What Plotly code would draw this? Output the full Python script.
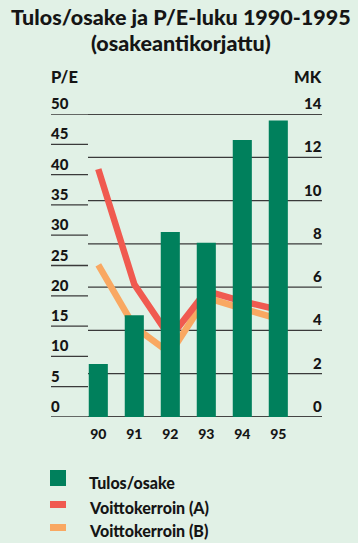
import plotly.graph_objects as go

# Data
years = ["90", "91", "92", "93", "94", "95"]
tulos_osake = [2.45, 4.7, 8.55, 8.05, 12.8, 13.7]          # MK (right axis)
voittokerroin_a = [40.9, 21.9, 13.1, 20.8, 19.1, 17.7]     # P/E (left axis)
voittokerroin_b = [25.1, 14.9, 10.5, 19.7, 17.9, 16.2]     # P/E (left axis)
pe_ticks = [0, 5, 10, 15, 20, 25, 30, 35, 40, 45, 50]
mk_ticks = [0, 2, 4, 6, 8, 10, 12, 14]

W, H = 358, 543
L, R, T, B = 51, 36, 114, 126
PW, PH = W - L - R, H - T - B

BG = "#e1f1e6"
GREEN = "#00805c"
RED = "#f05a50"
ORANGE = "#f9a862"
INK = "#151515"
FONT = "Lato"
HEAVY = 900


def px(x):
    return (x - L) / PW


def py(y):
    return (H - B - y) / PH


def txt(size):
    return dict(family=FONT, size=size, color=INK, weight=HEAVY)


fig = go.Figure()

fig.add_trace(go.Bar(
    x=years, y=tulos_osake, yaxis="y2", marker_color=GREEN,
    marker_line_width=0, width=0.53, name="Tulos/osake",
))
fig.add_trace(go.Scatter(
    x=years, y=voittokerroin_b, yaxis="y", mode="lines",
    line=dict(color=ORANGE, width=6.5), name="Voittokerroin (B)",
))
fig.add_trace(go.Scatter(
    x=years, y=voittokerroin_a, yaxis="y", mode="lines",
    line=dict(color=RED, width=6.5), name="Voittokerroin (A)",
))

shapes = []
annotations = []
split = px(88)

# Left-hand P/E rules with labels above them
for v in pe_ticks:
    x1 = 1 if v in (0, 50) else split
    shapes.append(dict(type="line", xref="paper", yref="y", x0=0, x1=x1,
                       y0=v, y1=v, line=dict(color="#3a3a3a", width=1.3),
                       layer="below"))
    annotations.append(dict(xref="paper", yref="y", x=0, y=v, text=str(v),
                            xanchor="left", yanchor="bottom", yshift=0,
                            xshift=-2, showarrow=False, font=txt(15)))

# Right-hand MK rules with labels above them
for v in mk_ticks:
    shapes.append(dict(type="line", xref="paper", yref="y2", x0=split, x1=1,
                       y0=v, y1=v, line=dict(color="#3a3a3a", width=1.3),
                       layer="below"))
    annotations.append(dict(xref="paper", yref="y2", x=1, y=v, text=str(v),
                            xanchor="right", yanchor="bottom", yshift=0,
                            xshift=2, showarrow=False, font=txt(15)))

# Title and axis captions
for line_text, yc in (("Tulos/osake ja P/E-luku 1990-1995", 17),
                      ("(osakeantikorjattu)", 43)):
    annotations.append(dict(xref="paper", yref="paper", x=px(181), y=py(yc),
                            text=line_text, xanchor="center", yanchor="middle",
                            showarrow=False, font=txt(21.5)))
annotations.append(dict(xref="paper", yref="paper", x=0, y=py(77), text="P/E",
                        xanchor="left", yanchor="middle", xshift=-2,
                        showarrow=False, font=txt(16.5)))
annotations.append(dict(xref="paper", yref="paper", x=1, y=py(77), text="MK",
                        xanchor="right", yanchor="middle", xshift=2,
                        showarrow=False, font=txt(16.5)))

# Legend
legend_items = [
    ("Tulos/osake", GREEN, 470, 486, 482),
    ("Voittokerroin (A)", RED, 501, 508, 507),
    ("Voittokerroin (B)", ORANGE, 524, 531, 530),
]
for label, color, y0, y1, yt in legend_items:
    shapes.append(dict(type="rect", xref="paper", yref="paper",
                       x0=px(50), x1=px(66), y0=py(y1), y1=py(y0),
                       fillcolor=color, line=dict(width=0)))
    annotations.append(dict(xref="paper", yref="paper", x=px(87), y=py(yt),
                            text=label, xanchor="left", yanchor="middle",
                            showarrow=False, font=txt(16)))

fig.update_layout(
    width=W, height=H,
    margin=dict(l=L, r=R, t=T, b=B, pad=0),
    paper_bgcolor=BG, plot_bgcolor=BG,
    showlegend=False,
    xaxis=dict(type="category", range=[(L - 98.3) / 36, (W - R - 98.3) / 36],
               showgrid=False, zeroline=False, showline=False,
               ticks="outside", ticklen=4, tickcolor="rgba(0,0,0,0)",
               tickfont=txt(14), fixedrange=True),
    yaxis=dict(range=[0, 50], visible=False, fixedrange=True),
    yaxis2=dict(range=[0, 14], overlaying="y", side="right", visible=False,
                fixedrange=True),
    shapes=shapes,
    annotations=annotations,
)

fig.write_html("out.html")
